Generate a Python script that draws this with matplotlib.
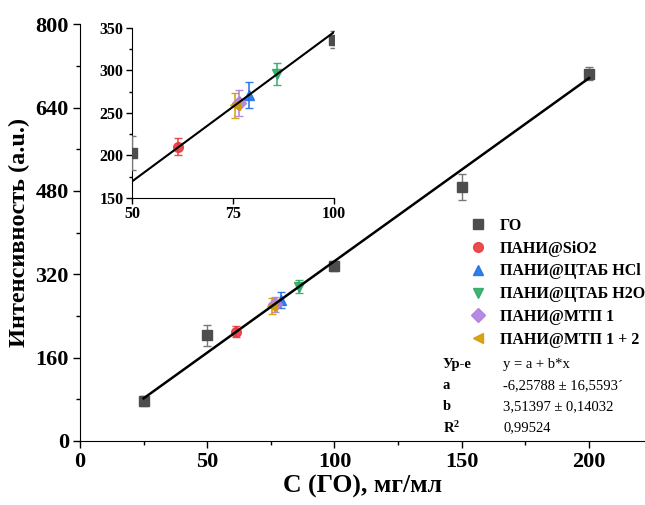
import numpy as np
import matplotlib
matplotlib.use("Agg")
import matplotlib.pyplot as plt
from matplotlib.lines import Line2D

plt.rcParams['font.family'] = ['Liberation Serif', 'DejaVu Serif']
plt.rcParams['mathtext.fontset'] = 'custom'
plt.rcParams['mathtext.rm'] = 'Liberation Serif'
plt.rcParams['mathtext.bf'] = 'Liberation Serif:bold'

# данные
go_x = [25, 50, 100, 150, 200]
go_y = [77, 203, 336, 488, 705]
go_err = [10, 20, 10, 25, 12]

series = [
    # имя, x, y, ошибка, маркер, цвет
    ("ПАНИ@SiO2", [61.3], [210], [10], "o", "#e8393c"),
    ("ПАНИ@ЦТАБ HCl", [79], [271], [15], "^", "#1f6fe8"),
    ("ПАНИ@ЦТАБ H2O", [86], [296], [13], "v", "#2eaa66"),
    ("ПАНИ@МТП 1", [76.5], [262], [15], "D", "#b07fe0"),
    ("ПАНИ@МТП 1 + 2", [75.5], [259], [15], "<", "#d49b00"),
]

a = -6.25788
b = 3.51397
fit_x = np.array([25, 200])
inset_fit_x = np.array([50, 100])

stats_lab = ["Ур-е", "a", "b", "R$\\mathbf{^2}$"]
stats_val = ["y = a + b*x", "-6,25788 ± 16,5593´", "3,51397 ± 0,14032", "0,99524"]

fig = plt.figure(figsize=(6.45, 5.05), dpi=100)
ax = fig.add_axes([0.124, 0.127, 0.876, 0.825])

def draw(ax, ms):
    ax.errorbar(go_x, go_y, yerr=go_err, fmt="s", color="#4d4d4d", ecolor="#777777",
                ms=ms, capsize=3, elinewidth=1, zorder=3)
    for name, x, y, e, m, c in series:
        ax.errorbar(x, y, yerr=e, fmt=m, color=c, ms=ms, capsize=3, elinewidth=1.2,
                    alpha=0.9, zorder=3)

draw(ax, 7)
ax.plot(fit_x, a + b * fit_x, color="black", lw=1.8, zorder=4)

ax.set_xlim(0, 222)
ax.set_ylim(0, 800)
ax.set_xticks([0, 50, 100, 150, 200])
ax.set_xticks([25, 75, 125, 175], minor=True)
ax.set_yticks([0, 160, 320, 480, 640, 800])
ax.set_yticks([80, 240, 400, 560, 720], minor=True)
ax.spines["top"].set_visible(False)
ax.spines["right"].set_visible(False)
ax.tick_params(direction="out", length=5, width=1, labelsize=16, pad=3)
ax.tick_params(which="minor", direction="out", length=3, width=1)
for t in ax.get_xticklabels() + ax.get_yticklabels():
    t.set_fontweight("bold")
ax.set_xlabel("C (ГО), мг/мл", fontsize=18.5, fontweight="bold", labelpad=2)
ax.set_ylabel("Интенсивность (a.u.)", fontsize=17.5, fontweight="bold", labelpad=4)

handles = [Line2D([], [], ls="none", marker="s", color="#4d4d4d", ms=7)]
labels = ["ГО"]
for name, x, y, e, m, c in series:
    handles.append(Line2D([], [], ls="none", marker=m, color=c, ms=7, alpha=0.9))
    labels.append(name)
leg = ax.legend(handles, labels, loc="upper left", bbox_to_anchor=(0.69, 0.535),
                frameon=False, prop={"weight": "bold", "size": 11.5},
                handletextpad=0.9, labelspacing=0.42, handlelength=1.0,
                borderpad=0, borderaxespad=0)

y0 = 0.183
for i in range(4):
    ax.text(0.642, y0 - i * 0.0505, stats_lab[i], transform=ax.transAxes,
            fontsize=10.5, fontweight="bold", va="center")
    ax.text(0.749, y0 - i * 0.0505, stats_val[i], transform=ax.transAxes,
            fontsize=10.5, va="center")

ins = fig.add_axes([0.2047, 0.608, 0.3131, 0.3366])
draw(ins, 7)
ins.plot(inset_fit_x, a + b * inset_fit_x, color="black", lw=1.5, zorder=4)
ins.set_xlim(50, 100)
ins.set_ylim(150, 350)
ins.set_xticks([50, 75, 100])
ins.set_yticks([150, 200, 250, 300, 350])
ins.set_yticks([175, 225, 275, 325], minor=True)
ins.spines["top"].set_visible(False)
ins.spines["right"].set_visible(False)
ins.tick_params(direction="out", length=4, width=1, labelsize=11.5, pad=2)
ins.tick_params(which="minor", direction="out", length=2, width=1)
for t in ins.get_xticklabels() + ins.get_yticklabels():
    t.set_fontweight("bold")

fig.savefig("out.png", dpi=100)
